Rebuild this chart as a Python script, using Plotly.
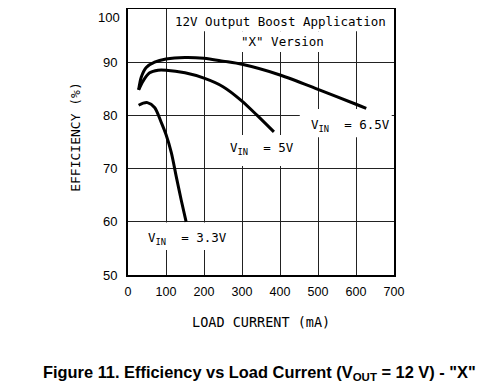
import plotly.graph_objects as go

# ---- data ----
v65_x = [28, 35, 48, 70, 100, 150, 200, 250, 300, 400, 500, 600, 627]
v65_y = [84.8, 87.2, 89.0, 90.0, 90.6, 90.9, 90.75, 90.2, 89.6, 87.6, 84.9, 82.1, 81.3]

v5_x = [28, 40, 57, 79, 100, 150, 200, 250, 300, 340, 384]
v5_y = [84.8, 86.5, 88.0, 88.5, 88.5, 88.0, 87.0, 85.4, 82.7, 80.0, 76.9]

v33_x = [28, 40, 51, 70, 88, 100, 114, 127, 140, 153]
v33_y = [81.9, 82.3, 82.4, 81.5, 78.6, 76.4, 73.0, 68.5, 64.1, 60.0]

x_ticks = [0, 100, 200, 300, 400, 500, 600, 700]
y_ticks = [50, 60, 70, 80, 90, 100]
y_top_label = "100"

MONO = "DejaVu Sans Mono"
SANS = "Liberation Sans, Arial, sans-serif"

fig = go.Figure()
for xs, ys in [(v65_x, v65_y), (v5_x, v5_y), (v33_x, v33_y)]:
    fig.add_trace(go.Scatter(x=xs, y=ys, mode="lines",
                             line=dict(color="black", width=3, shape="spline", smoothing=0.8),
                             showlegend=False, hoverinfo="skip"))

# white boxes that interrupt the grid behind labels
boxes = [
    (123, 694, 95.8, 100),   # title line 1
    (281, 518, 91.9, 95.8),  # title line 2
    (452, 694, 75.9, 81.2),  # 6.5V label
    (255, 440, 70.5, 76.3),  # 5V label
    (31, 273, 54.7, 59.85),  # 3.3V label
]
for x0, x1, y0, y1 in boxes:
    fig.add_shape(type="rect", x0=x0, x1=x1, y0=y0, y1=y1, xref="x", yref="y",
                  fillcolor="white", line=dict(width=0), layer="between")

ann_font = dict(family=MONO, size=12.5, color="black")
fig.add_annotation(x=402, y=97.56, text="12V Output Boost Application", showarrow=False,
                   font=ann_font, xanchor="center", yanchor="middle")
fig.add_annotation(x=405.7, y=93.9, text='"X" Version', showarrow=False,
                   font=ann_font, xanchor="center", yanchor="middle")
fig.add_annotation(x=476.6, y=78.1, text="V<sub>IN</sub>\u00a0 = 6.5V", showarrow=False,
                   font=ann_font, xanchor="left", yanchor="middle")
fig.add_annotation(x=263.2, y=73.8, text="V<sub>IN</sub>\u00a0 = 5V", showarrow=False,
                   font=ann_font, xanchor="left", yanchor="middle")
fig.add_annotation(x=48.5, y=56.9, text="V<sub>IN</sub>\u00a0 = 3.3V", showarrow=False,
                   font=ann_font, xanchor="left", yanchor="middle")

# top y tick label, kept just inside the page so it is not clipped
fig.add_annotation(x=0, y=1, xref="paper", yref="paper", text=y_top_label, showarrow=False,
                   font=dict(family=SANS, size=13, color="black"), borderpad=0,
                   xanchor="right", yanchor="top", xshift=-7)

# axis titles
fig.add_annotation(x=0.5, y=-0.176, xref="paper", yref="paper", text="LOAD CURRENT (mA)",
                   showarrow=False, font=dict(family=MONO, size=13.5, color="black"),
                   xanchor="center", yanchor="middle")
fig.add_annotation(x=-0.196, y=0.519, xref="paper", yref="paper", text="EFFICIENCY (%)",
                   showarrow=False, textangle=-90, font=dict(family=MONO, size=13, color="black"),
                   xanchor="center", yanchor="middle")
# caption
fig.add_annotation(x=0.4957, y=-0.368, xref="paper", yref="paper",
                   text='<b>Figure 11. Efficiency vs Load Current (V<sub>OUT</sub> = 12 V) - "X"</b>',
                   showarrow=False, font=dict(family=SANS, size=16.4, color="black"),
                   xanchor="center", yanchor="middle")

# the page places the figure 8px in from the window's corner
fig.update_layout(
    width=478, height=380,
    margin=dict(l=120, r=92, t=0.5, b=113, autoexpand=False),
    paper_bgcolor="white", plot_bgcolor="white",
    xaxis=dict(range=[0, 700], tickvals=x_ticks, ticktext=[str(v) for v in x_ticks],
               showgrid=True, gridcolor="#222", gridwidth=1, automargin=False,
               showline=True, linecolor="black", linewidth=2, mirror=True,
               ticks="", zeroline=False, ticklabelstandoff=4, ticklabeloverflow="allow",
               tickfont=dict(family=SANS, size=12.5, color="black")),
    yaxis=dict(range=[50, 100], tickvals=y_ticks,
               ticktext=[str(v) if v != 100 else "" for v in y_ticks],
               showgrid=True, gridcolor="#222", gridwidth=1, automargin=False,
               showline=True, linecolor="black", linewidth=2, mirror=True,
               ticks="", zeroline=False, ticklabelstandoff=6, ticklabeloverflow="allow",
               tickfont=dict(family=SANS, size=13, color="black")),
)

fig.write_html("out.html")
